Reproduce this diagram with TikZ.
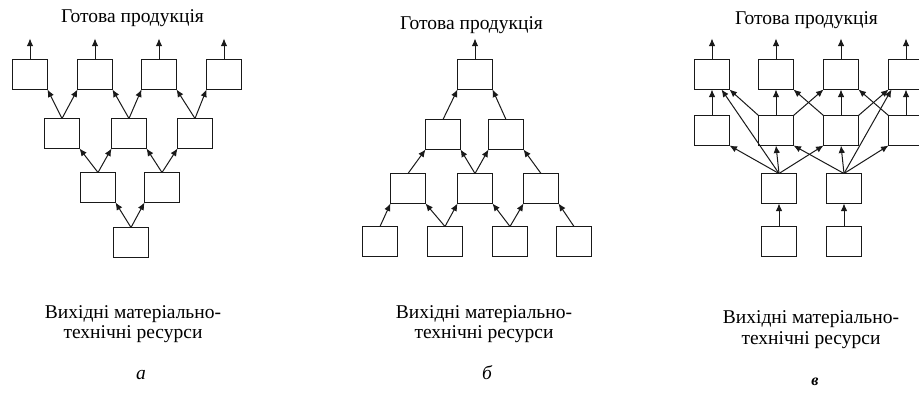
\documentclass[tikz,border=0pt]{standalone}
\usepackage{fontspec}
\setmainfont{Liberation Serif}
\usetikzlibrary{arrows.meta}
\begin{document}
\begin{tikzpicture}[x=1pt,y=-1pt,
  box/.style={draw=black!90,line width=1pt,fill=white,minimum width=35pt,minimum height=30pt,inner sep=0pt,outer sep=0pt},
  arr/.style={-{Latex[length=7.5pt,width=6.5pt]},line width=1pt,draw=black!90},
  txt/.style={font=\fontsize{19.5}{23}\selectfont,inner sep=0pt,anchor=base},
  lbl/.style={font=\fontsize{19.5}{23}\selectfont\itshape,inner sep=0pt,anchor=base}]
\useasboundingbox (0,0) rectangle (919,394);
% ---------- a ----------
\node[txt] (ta) at (132.5,22) {Готова продукція};
\node[box] (a11) at (30,74.5) {};
\node[box] (a12) at (95,74.5) {};
\node[box] (a13) at (159,74.5) {};
\node[box] (a14) at (224,74.5) {};
\node[box] (a21) at (62,133.5) {};
\node[box] (a22) at (129,133.5) {};
\node[box] (a23) at (195,133.5) {};
\node[box] (a31) at (98,187.5) {};
\node[box] (a32) at (162,187.5) {};
\node[box] (a41) at (131,242.5) {};
\foreach \n in {a11,a12,a13,a14} \draw[arr] (\n.north) -- ++(0,-21);
\draw[arr] (a21.north) -- (a11.south east);
\draw[arr] (a21.north) -- (a12.south west);
\draw[arr] (a22.north) -- (a12.south east);
\draw[arr] (a22.north) -- (a13.south west);
\draw[arr] (a23.north) -- (a13.south east);
\draw[arr] (a23.north) -- (a14.south west);
\draw[arr] (a31.north) -- (a21.south east);
\draw[arr] (a31.north) -- (a22.south west);
\draw[arr] (a32.north) -- (a22.south east);
\draw[arr] (a32.north) -- (a23.south west);
\draw[arr] (a41.north) -- (a31.south east);
\draw[arr] (a41.north) -- (a32.south west);
\node[txt] (ra1) at (133,318) {Вихідні матеріально-};
\node[txt] (ra2) at (133,338) {технічні ресурси};
\node[lbl] (la) at (141,379) {а};
% ---------- b ----------
\node[txt] (tb) at (471.5,29) {Готова продукція};
\node[box] (b11) at (475,74.5) {};
\node[box] (b21) at (443,134.5) {};
\node[box] (b22) at (506,134.5) {};
\node[box] (b31) at (408,188.5) {};
\node[box] (b32) at (475,188.5) {};
\node[box] (b33) at (541,188.5) {};
\node[box] (b41) at (380,241.5) {};
\node[box] (b42) at (445,241.5) {};
\node[box] (b43) at (510,241.5) {};
\node[box] (b44) at (574,241.5) {};
\draw[arr] (b11.north) -- ++(0,-21);
\draw[arr] (b21.north) -- (b11.south west);
\draw[arr] (b22.north) -- (b11.south east);
\draw[arr] (b31.north) -- (b21.south west);
\draw[arr] (b32.north) -- (b21.south east);
\draw[arr] (b32.north) -- (b22.south west);
\draw[arr] (b33.north) -- (b22.south east);
\draw[arr] (b41.north) -- (b31.south west);
\draw[arr] (b42.north) -- (b31.south east);
\draw[arr] (b42.north) -- (b32.south west);
\draw[arr] (b43.north) -- (b32.south east);
\draw[arr] (b43.north) -- (b33.south west);
\draw[arr] (b44.north) -- (b33.south east);
\node[txt] (rb1) at (484,318) {Вихідні матеріально-};
\node[txt] (rb2) at (484,338) {технічні ресурси};
\node[lbl] (lb) at (487,379) {б};
% ---------- c ----------
\node[txt] (tc) at (806.5,24) {Готова продукція};
\node[box] (c11) at (712,74.5) {};
\node[box] (c12) at (776,74.5) {};
\node[box] (c13) at (841,74.5) {};
\node[box] (c14) at (906,74.5) {};
\node[box] (c21) at (712,130.5) {};
\node[box] (c22) at (776,130.5) {};
\node[box] (c23) at (841,130.5) {};
\node[box] (c24) at (906,130.5) {};
\node[box] (c31) at (779,188.5) {};
\node[box] (c32) at (844,188.5) {};
\node[box] (c41) at (779,241.5) {};
\node[box] (c42) at (844,241.5) {};
\foreach \n in {c11,c12,c13,c14} \draw[arr] (\n.north) -- ++(0,-21);
\draw[arr] (c21.north) -- (c11.south);
\draw[arr] (c22.north) -- (c12.south);
\draw[arr] (c23.north) -- (c13.south);
\draw[arr] (c24.north) -- (c14.south);
\draw[arr] (c22.north west) -- (c11.south east);
\draw[arr] (c22.north east) -- (c13.south west);
\draw[arr] (c23.north west) -- (c12.south east);
\draw[arr] (c23.north east) -- (c14.south west);
\draw[arr] (c24.north west) -- (c13.south east);
\draw[arr] (c31.north) -- (c21.south east);
\draw[arr] (c31.north) -- (c22.south);
\draw[arr] (c31.north) -- (c23.south west);
\draw[arr] (c31.north) -- ([xshift=-8pt]c11.south east);
\draw[arr] (c32.north) -- (c22.south east);
\draw[arr] (c32.north) -- (c23.south);
\draw[arr] (c32.north) -- (c24.south west);
\draw[arr] (c32.north) -- ([xshift=3pt]c14.south west);
\draw[arr] (c41.north) -- (c31.south);
\draw[arr] (c42.north) -- (c32.south);
\node[txt] (rc1) at (811,323) {Вихідні матеріально-};
\node[txt] (rc2) at (811,344) {технічні ресурси};
\node[lbl,font=\fontsize{16}{19}\selectfont\bfseries\itshape] (lc) at (815,385) {в};
\end{tikzpicture}
\end{document}
